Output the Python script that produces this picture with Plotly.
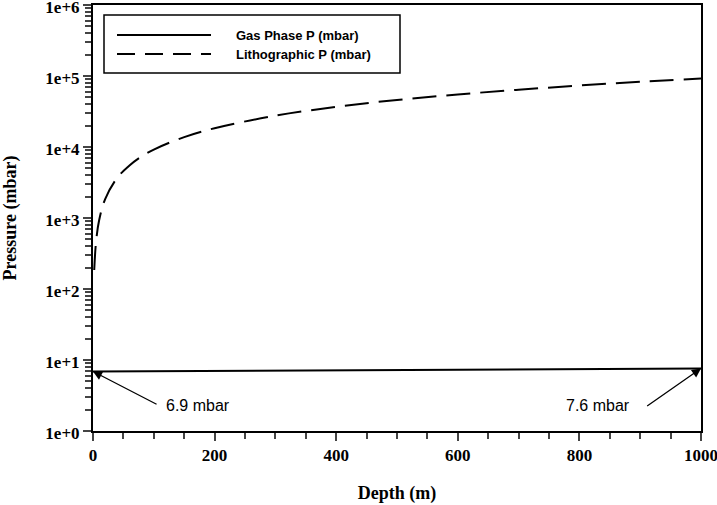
import plotly.graph_objects as go
import math

# Data
depth_litho = [2, 5, 10, 20, 40, 60, 80, 100, 150, 200, 300, 400, 500, 600, 700, 800, 900, 1000]
p_litho = [185, 460, 920, 1850, 3700, 5500, 7400, 9200, 13800, 18400, 27600, 36800,
           46000, 55000, 64000, 73500, 83000, 92000]
depth_gas = [0, 1000]
p_gas = [6.9, 7.6]
gas_labels = ["6.9 mbar", "7.6 mbar"]

y_tickvals = [1, 10, 100, 1000, 1e4, 1e5, 1e6]
y_ticktext = ["1e+0", "1e+1", "1e+2", "1e+3", "1e+4", "1e+5", "1e+6"]
x_tickvals = [0, 200, 400, 600, 800, 1000]
legend_names = ["Gas Phase P (mbar)", "Lithographic P (mbar)"]

serif = "Liberation Serif, Times New Roman, serif"
sans = "Liberation Sans, Arial, sans-serif"

fig = go.Figure()
fig.add_trace(go.Scatter(x=depth_gas, y=p_gas, mode="lines", name=legend_names[0],
                         line=dict(color="black", width=2), showlegend=False))
fig.add_trace(go.Scatter(x=depth_litho, y=p_litho, mode="lines", name=legend_names[1],
                         line=dict(color="black", width=2, dash="24px,10px", shape="spline"),
                         showlegend=False))

# arrows pointing to the gas-phase end values (tails in data coords; log units on y)
tails = [(107, 0.366), (909, 0.338)]
label_pos = [(173, 0.366), (830, 0.366)]
for xd, yv, (tx, ty), lab, (lx, ly) in zip(depth_gas, p_gas, tails, gas_labels, label_pos):
    fig.add_annotation(x=xd, y=math.log10(yv), xref="x", yref="y", ax=tx, ay=ty,
                       axref="x", ayref="y", text="", showarrow=True, arrowhead=2,
                       arrowsize=1.4, arrowwidth=1.3, arrowcolor="black")
    fig.add_annotation(x=lx, y=ly, xref="x", yref="y", text=lab, showarrow=False,
                       xanchor="center", yanchor="middle",
                       font=dict(family=sans, size=16, color="black"))

# custom legend box (paper coordinates)
W, H = 717, 505
L, R, T, B = 93, 16, 5, 74
pw, ph = W - L - R, H - T - B
def px(xp):
    return (xp - L) / pw
def py(yp):
    return 1 - (yp - T) / ph

fig.add_shape(type="rect", xref="paper", yref="paper", x0=px(104), x1=px(400), y0=py(73), y1=py(15),
              line=dict(color="black", width=1.5), fillcolor="white", layer="above")
for i, (name, dash) in enumerate(zip(legend_names, ["solid", "18px,10px"])):
    yy = 35 + 19 * i
    fig.add_shape(type="line", xref="paper", yref="paper", x0=px(117), x1=px(211), y0=py(yy), y1=py(yy),
                  line=dict(color="black", width=2, dash=dash), layer="above")
    fig.add_annotation(x=px(234), y=py(yy), xref="paper", yref="paper", text="<b>" + name + "</b>",
                       showarrow=False, xanchor="left", yanchor="middle",
                       font=dict(family=sans, size=13, color="black"))

fig.update_layout(
    width=W, height=H,
    margin=dict(l=L, r=R, t=T, b=B, autoexpand=False),
    paper_bgcolor="white", plot_bgcolor="white",
    showlegend=False,
    xaxis=dict(range=[0, 1000], tickvals=x_tickvals, ticks="outside", ticklen=8, tickwidth=2,
               showline=True, linewidth=2, linecolor="black", mirror=True, showgrid=False,
               zeroline=False, automargin=False, ticklabeloverflow="allow",
               tickfont=dict(family=serif, size=17, color="black", weight="bold"),
               minor=dict(dtick=50, ticks="outside", ticklen=6, tickwidth=2, showgrid=False),
               title=dict(text="<b>Depth (m)</b>", font=dict(family=serif, size=18, color="black"),
                          standoff=22)),
    yaxis=dict(type="log", range=[0, 6], tickvals=y_tickvals, ticktext=y_ticktext,
               ticks="outside", ticklen=8, tickwidth=2, ticklabelshift=2,
               showline=True, linewidth=2, linecolor="black", mirror=True, showgrid=False,
               zeroline=False, automargin=False, ticklabeloverflow="allow",
               tickfont=dict(family=serif, size=17, color="black", weight="bold"),
               minor=dict(dtick="D1", ticks="outside", ticklen=6, tickwidth=2, showgrid=False),
               title=dict(text="<b>Pressure (mbar)</b>", font=dict(family=serif, size=18, color="black"),
                          standoff=24)),
)

fig.write_html("out.html", config={"displayModeBar": False},
               post_script="document.body.style.margin='0';document.body.style.padding='0';")
